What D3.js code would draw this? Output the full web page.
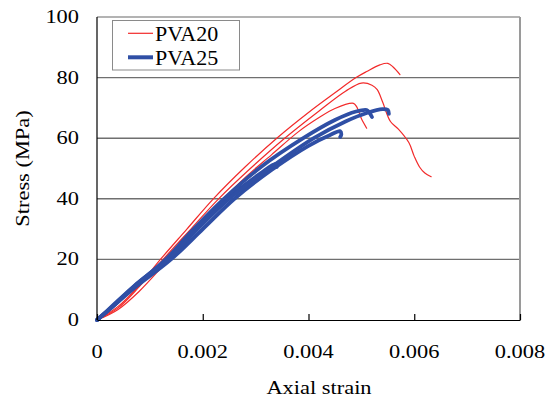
<!DOCTYPE html>
<html>
<head>
<meta charset="utf-8">
<script src="https://cdn.jsdelivr.net/npm/d3@7"></script>
<style>
  body { margin: 0; background: #fff; }
  svg text { font-family: "Liberation Serif", Tinos, "Times New Roman", Times, serif; fill: #000; font-weight: normal; }
</style>
</head>
<body>
<svg id="chart" width="553" height="403"></svg>
<script>
// Axis ticks
const xTicks = [0, 0.002, 0.004, 0.006, 0.008];
const yTicks = [0, 20, 40, 60, 80, 100];

// PVA20 specimens (strain, stress MPa)
const pva20a = [[0,0],[0.0004,4.5],[0.0008,11.5],[0.0012,20],[0.0017,30],[0.0022,40],[0.0028,50.5],[0.0034,60],[0.004,68.5],[0.0045,75],[0.0049,80],[0.0051,82],[0.00535,84.2],[0.0055,84.7],[0.0056,83.5],[0.00573,81]];
const pva20b = [[0,0],[0.0004,4],[0.0008,11],[0.00125,20],[0.0018,30.5],[0.0023,40],[0.0029,50],[0.00355,60],[0.0042,69],[0.0047,75.5],[0.005,78.2],[0.0052,77.5],[0.0053,76],[0.0054,72],[0.00555,65.5],[0.0057,63],[0.0059,58.5],[0.006,54],[0.0061,50.5],[0.0062,48.5],[0.00632,47.3]];
const pva20c = [[0,0],[0.0004,3.5],[0.0008,9.5],[0.0012,17],[0.0017,27],[0.0022,36.5],[0.0028,47],[0.0033,54.5],[0.0038,62],[0.0042,66.8],[0.0045,69.8],[0.00485,71.5],[0.00491,70.4],[0.005,66.5],[0.0051,63.3]];

// PVA25 specimens
const pva25a = [[0,0],[0.0003,4.5],[0.0007,11],[0.00135,20],[0.0019,30],[0.0025,40],[0.0033,50.5],[0.0041,60],[0.0047,65.5],[0.0051,68.3],[0.0054,69.6],[0.0055,69.3],[0.00552,68]];
const pva25b = [[0,0],[0.0003,4.5],[0.0007,11],[0.0013,20],[0.0018,29.5],[0.0024,40],[0.0031,50.5],[0.0039,60],[0.0045,66],[0.0049,68.8],[0.0051,69.3],[0.00515,68.5],[0.0052,67]];
const pva25c = [[0,0],[0.0003,4.5],[0.0007,10.5],[0.0014,20],[0.002,30],[0.0026,40],[0.0033,49.5],[0.004,57.5],[0.0044,61],[0.0046,62.3],[0.00462,61.2],[0.0046,60.4]];
const pva25d = [[0,0],[0.0003,4.8],[0.0007,11.2],[0.00132,20],[0.0019,30.5],[0.0025,40.5],[0.0031,48.5],[0.00338,51.5],[0.0034,50.5]];

const red = "#f22a2a";
const blue = "#2f4fa5";
const serif = "'Liberation Serif', Tinos, 'Times New Roman', Times, serif";

const svg = d3.select("#chart");
const plotLeft = 97, plotRight = 520, plotTop = 17, plotBottom = 320;

const x = d3.scaleLinear().domain([0, 0.008]).range([plotLeft, plotRight]);
const y = d3.scaleLinear().domain([0, 100]).range([plotBottom, plotTop]);

// gridlines
svg.append("g")
  .selectAll("line")
  .data(yTicks.filter(d => d > 0))
  .enter().append("line")
  .attr("x1", plotLeft).attr("x2", plotRight)
  .attr("y1", d => y(d)).attr("y2", d => y(d))
  .attr("stroke", d => d == 100 ? "#9a9a9a" : "#6f6f6f")
  .attr("stroke-width", 1.4);

// right border
svg.append("line")
  .attr("x1", plotRight).attr("x2", plotRight).attr("y1", plotTop).attr("y2", plotBottom)
  .attr("stroke", "#9a9a9a").attr("stroke-width", 2);

// curves
const line = d3.line()
  .x(d => x(d[0])).y(d => y(d[1]))
  .curve(d3.curveCatmullRom.alpha(0.5));

const series = [
  { data: pva20a, color: red, w: 1.2 },
  { data: pva20b, color: red, w: 1.2 },
  { data: pva20c, color: red, w: 1.2 },
  { data: pva25d, color: blue, w: 3.8 },
  { data: pva25c, color: blue, w: 3.8 },
  { data: pva25b, color: blue, w: 3.8 },
  { data: pva25a, color: blue, w: 3.8 }
];

svg.append("g")
  .selectAll("path")
  .data(series)
  .enter().append("path")
  .attr("d", d => line(d.data))
  .attr("fill", "none")
  .attr("stroke", d => d.color)
  .attr("stroke-width", d => d.w)
  .attr("stroke-linejoin", "round")
  .attr("stroke-linecap", "round");

// axes
const xAxis = d3.axisBottom(x).tickValues(xTicks).tickSizeInner(-6).tickSizeOuter(0).tickFormat("");
svg.append("g")
  .attr("transform", "translate(0," + plotBottom + ")")
  .call(xAxis)
  .call(g => g.selectAll("line,path").attr("stroke", "#000").attr("stroke-width", 1.2));

svg.append("line")
  .attr("x1", plotLeft).attr("x2", plotLeft).attr("y1", plotTop).attr("y2", plotBottom)
  .attr("stroke", "#000").attr("stroke-width", 1.2);

// tick labels (Times-like text looks a bit stretched in the original)
const stretch = 1.18;
svg.append("g")
  .selectAll("text")
  .data(xTicks)
  .enter().append("text")
  .attr("transform", d => "translate(" + x(d) + ",358) scale(" + stretch + ",1)")
  .attr("text-anchor", "middle")
  .attr("font-family", serif)
  .attr("font-size", 19)
  .text(d => d);

svg.append("g")
  .selectAll("text")
  .data(yTicks)
  .enter().append("text")
  .attr("transform", d => "translate(79," + (y(d) + 6) + ") scale(" + stretch + ",1)")
  .attr("text-anchor", "end")
  .attr("font-family", serif)
  .attr("font-size", 19)
  .text(d => d);

// axis titles
svg.append("text")
  .attr("transform", "translate(319,394) scale(" + stretch + ",1)")
  .attr("text-anchor", "middle")
  .attr("font-family", serif)
  .attr("font-size", 19)
  .text("Axial strain");

svg.append("text")
  .attr("transform", "translate(29,168.5) rotate(-90) scale(" + stretch + ",1)")
  .attr("text-anchor", "middle")
  .attr("font-family", serif)
  .attr("font-size", 19)
  .text("Stress (MPa)");

// legend
const legend = svg.append("g");
legend.append("rect")
  .attr("x", 112.5).attr("y", 20.5).attr("width", 127).attr("height", 49.5)
  .attr("fill", "#fff").attr("stroke", "#8a8a8a").attr("stroke-width", 1);

const legendItems = [
  { name: "PVA20", color: red, w: 1.2, cy: 33.3 },
  { name: "PVA25", color: blue, w: 4, cy: 57.3 }
];
legendItems.forEach(function(it) {
  legend.append("line")
    .attr("x1", 128).attr("x2", 153).attr("y1", it.cy).attr("y2", it.cy)
    .attr("stroke", it.color).attr("stroke-width", it.w);
  legend.append("text")
    .attr("x", 155).attr("y", it.cy + 7.6)
    .attr("font-family", serif)
    .attr("font-size", 22)
    .text(it.name);
});
</script>
</body>
</html>
